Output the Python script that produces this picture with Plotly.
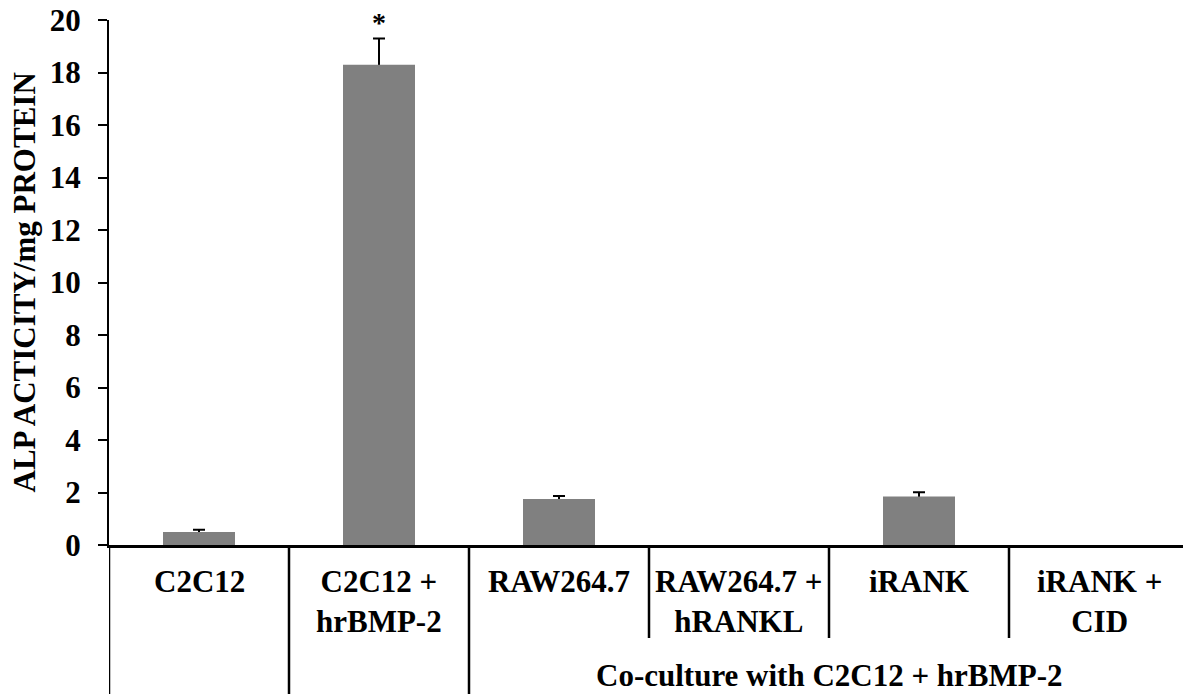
import plotly.graph_objects as go

# ALP activity per mg protein for each culture condition
categories = ["C2C12", "C2C12 +<br>hrBMP-2", "RAW264.7", "RAW264.7 +<br>hRANKL", "iRANK", "iRANK +<br>CID"]
alp_mean = [0.5, 18.3, 1.75, 0.0, 1.85, 0.0]
alp_err = [0.08, 1.0, 0.12, None, 0.16, None]
y_ticks = [0, 2, 4, 6, 8, 10, 12, 14, 16, 18, 20]
group_label = "Co-culture with C2C12 + hrBMP-2"
y_title = "ALP ACTICITY/mg PROTEIN"

FONT = "Times New Roman, Liberation Serif, DejaVu Serif, serif"
W, H = 1183, 696
ML, MT, MB = 109, 20, 151
plot_h = H - MT - MB
cat_px = 180.0
plot_w = W - ML

xpos = list(range(len(categories)))

# only conditions with a measured spread get an error bar
err_idx = [i for i, e in enumerate(alp_err) if e is not None]

fig = go.Figure()

# error bars sit on the base subplot so the bars (on the overlaid axis) hide their lower half
fig.add_trace(go.Scatter(
    x=[xpos[i] for i in err_idx], y=[alp_mean[i] for i in err_idx], mode="markers",
    marker=dict(size=1, opacity=0),
    error_y=dict(type="data", array=[alp_err[i] for i in err_idx], symmetric=True,
                 color="black", thickness=2, width=6),
    hoverinfo="skip", showlegend=False, xaxis="x", yaxis="y",
))
fig.add_trace(go.Bar(
    x=xpos, y=alp_mean, width=0.4,
    marker=dict(color="#808080", line=dict(width=0)),
    showlegend=False, xaxis="x", yaxis="y2",
))

x_range = [-0.5, -0.5 + plot_w / cat_px]

fig.update_layout(
    width=W, height=H,
    margin=dict(l=ML, r=0, t=MT, b=MB, pad=0),
    paper_bgcolor="white", plot_bgcolor="white",
    font=dict(family=FONT, color="black", size=31),
    xaxis=dict(range=x_range, showticklabels=False, ticks="",
               showgrid=False, zeroline=False,
               showline=True, linecolor="black", linewidth=3),
    yaxis=dict(range=[0, 20], tickvals=y_ticks, ticks="outside", ticklen=9,
               tickwidth=2, tickcolor="black", ticklabelstandoff=11,
               tickfont=dict(family=FONT, size=31, weight="bold", color="black"),
               showgrid=False, zeroline=False,
               showline=True, linecolor="black", linewidth=2),
    yaxis2=dict(range=[0, 20], overlaying="y", visible=False),
    bargap=0.6,
)

def py(px):
    """pixel row -> paper y"""
    return (H - MB - px) / plot_h

# separators below the axis: full height for single conditions, shorter inside the co-culture group
shapes = []
for i in range(len(categories)):
    xb = i - 0.5
    bottom = 694 if i <= 2 else 638
    shapes.append(dict(type="line", xref="x", yref="paper", x0=xb, x1=xb,
                       y0=0, y1=py(bottom), line=dict(color="black", width=2.5)))
fig.update_layout(shapes=shapes)

ann = []
for i, c in enumerate(categories):
    ann.append(dict(x=i, xref="x", y=py(562), yref="paper", yanchor="top",
                    xanchor="center", text="<b>%s</b>" % c, showarrow=False,
                    font=dict(family=FONT, size=31, color="black")))
ann.append(dict(x=3.5, xref="x", y=py(675), yref="paper", yanchor="middle",
                xanchor="center", text="<b>%s</b>" % group_label, showarrow=False,
                font=dict(family=FONT, size=31, color="black")))
ann.append(dict(x=(24 - ML) / plot_w, xref="paper", y=0.5, yref="paper",
                xanchor="center", yanchor="middle", textangle=-90,
                text="<b>%s</b>" % y_title, showarrow=False,
                font=dict(family=FONT, size=31, color="black")))
ann.append(dict(x=1, xref="x", y=py(22), yref="paper", xanchor="center",
                yanchor="middle", text="<b>*</b>", showarrow=False,
                font=dict(family=FONT, size=28, color="black")))
fig.update_layout(annotations=ann)

fig.write_html("out.html")
